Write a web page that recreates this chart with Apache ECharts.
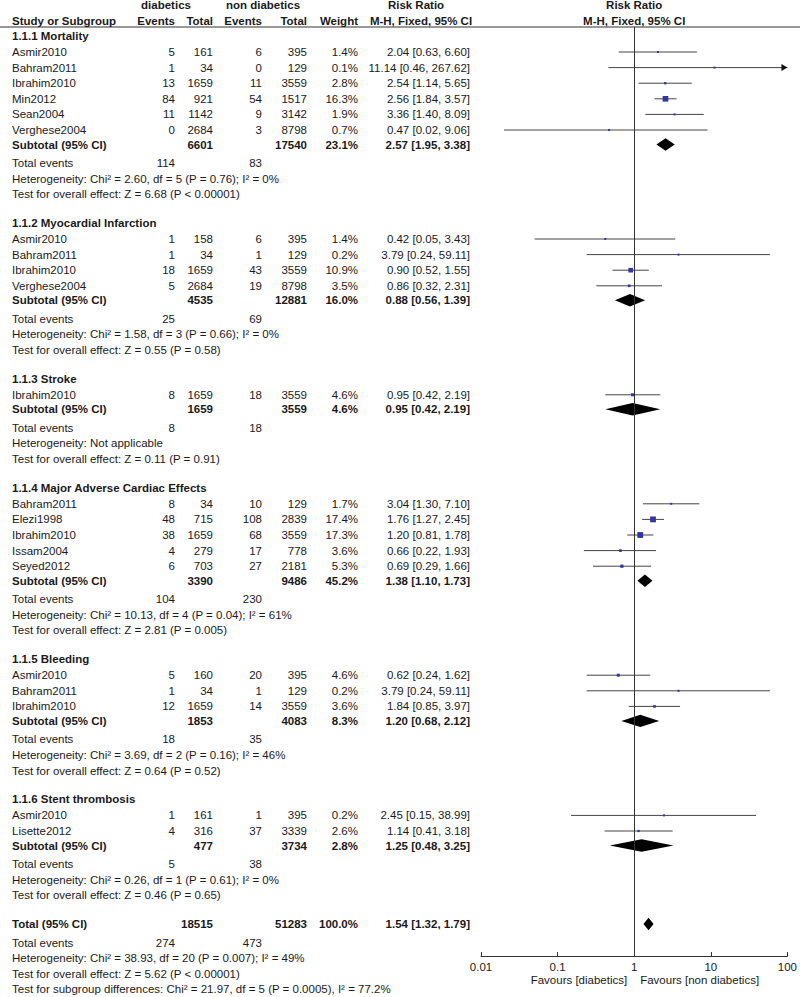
<!DOCTYPE html>
<html>
<head>
<meta charset="utf-8">
<script src="https://cdn.jsdelivr.net/npm/echarts@6/dist/echarts.min.js"></script>
<style>html,body{margin:0;padding:0;background:#fff}#c{width:800px;height:997px}</style>
</head>
<body>
<div id="c"></div>
<script>
// ---------------- DATA ----------------
const groupTitles = ['1.1.1 Mortality', '1.1.2 Myocardial Infarction', '1.1.3 Stroke',
  '1.1.4 Major Adverse Cardiac Effects', '1.1.5 Bleeding', '1.1.6 Stent thrombosis'];
const studyGroup = [0,0,0,0,0,0, 1,1,1,1, 2, 3,3,3,3,3, 4,4,4, 5,5];
const studyNames = ['Asmir2010','Bahram2011','Ibrahim2010','Min2012','Sean2004','Verghese2004',
  'Asmir2010','Bahram2011','Ibrahim2010','Verghese2004',
  'Ibrahim2010',
  'Bahram2011','Elezi1998','Ibrahim2010','Issam2004','Seyed2012',
  'Asmir2010','Bahram2011','Ibrahim2010',
  'Asmir2010','Lisette2012'];
const eventsDiab   = [5,1,13,84,11,0, 1,1,18,5, 8, 8,48,38,4,6, 5,1,12, 1,4];
const totalDiab    = [161,34,1659,921,1142,2684, 158,34,1659,2684, 1659, 34,715,1659,279,703, 160,34,1659, 161,316];
const eventsNon    = [6,0,11,54,9,3, 6,1,43,19, 18, 10,108,68,17,27, 20,1,14, 1,37];
const totalNon     = [395,129,3559,1517,3142,8798, 395,129,3559,8798, 3559, 129,2839,3559,778,2181, 395,129,3559, 395,3339];
const weights      = [1.4,0.1,2.8,16.3,1.9,0.7, 1.4,0.2,10.9,3.5, 4.6, 1.7,17.4,17.3,3.6,5.3, 4.6,0.2,3.6, 0.2,2.6];
const riskRatio    = [2.04,11.14,2.54,2.56,3.36,0.47, 0.42,3.79,0.90,0.86, 0.95, 3.04,1.76,1.20,0.66,0.69, 0.62,3.79,1.84, 2.45,1.14];
const ciLow        = [0.63,0.46,1.14,1.84,1.40,0.02, 0.05,0.24,0.52,0.32, 0.42, 1.30,1.27,0.81,0.22,0.29, 0.24,0.24,0.85, 0.15,0.41];
const ciHigh       = [6.60,267.62,5.65,3.57,8.09,9.06, 3.43,59.11,1.55,2.31, 2.19, 7.10,2.45,1.78,1.93,1.66, 1.62,59.11,3.97, 38.99,3.18];

const subTotalDiab = [6601,4535,1659,3390,1853,477];
const subTotalNon  = [17540,12881,3559,9486,4083,3734];
const subWeight    = [23.1,16.0,4.6,45.2,8.3,2.8];
const subRR        = [2.57,0.88,0.95,1.38,1.20,1.25];
const subLow       = [1.95,0.56,0.42,1.10,0.68,0.48];
const subHigh      = [3.38,1.39,2.19,1.73,2.12,3.25];
const subEventsDiab= [114,25,8,104,18,5];
const subEventsNon = [83,69,18,230,35,38];
const hetChi       = ['2.60','1.58',null,'10.13','3.69','0.26'];
const hetDf        = [5,3,null,4,2,1];
const hetP         = ['0.76','0.66',null,'0.04','0.16','0.61'];
const hetI2        = [0,0,null,61,46,0];
const zValue       = ['6.68','0.55','0.11','2.81','0.64','0.46'];
const zP           = ['P < 0.00001','P = 0.58','P = 0.91','P = 0.005','P = 0.52','P = 0.65'];

const overallTotals = [18515, 51283];
const overallWeight = 100.0;
const overallRR     = [1.54, 1.32, 1.79];
const overallEvents = [274, 473];
const overallHet    = ['38.93', 20, '0.007', 49];
const overallZ      = ['5.62', 'P < 0.00001'];
const subgroupDiff  = ['21.97', 5, '0.0005', '77.2'];

const xTicks = [0.01, 0.1, 1, 10, 100];
const favourLabels = ['Favours [diabetics]', 'Favours [non diabetics]'];

// ---------------- LAYOUT ----------------
const FONT = '"Liberation Sans", Arial, Helvetica, sans-serif';
const FS = 11.5;
const TXT = '#1a1a1a';
const COL = {name: 12, evD: 175, totD: 213, evN: 262, totN: 307, w: 358, rr: 470};
const ROW = 15.6, HEAD_TO_STUDY = 16, STUDY_TO_SUB = 14.5, SUB_TO_TE = 18.5, GROUP_GAP = 28.8, TOP = 36;
const AXIS_Y = 956, HEADER_LINE_Y = 27;

const texts = [];
function T(x, y, text, align, bold) { texts.push({x, y, text: String(text), align: align || 'left', bold: !!bold}); }
const fmtRR = (r, l, h) => r.toFixed(2) + ' [' + l.toFixed(2) + ', ' + h.toFixed(2) + ']';
const pct = w => w.toFixed(1) + '%';

// header
T(166, 5, 'diabetics', 'center', true);
T(263, 5, 'non diabetics', 'center', true);
T(416, 5, 'Risk Ratio', 'center', true);
T(COL.name, 21, 'Study or Subgroup', 'left', true);
T(COL.evD, 21, 'Events', 'right', true);
T(COL.totD, 21, 'Total', 'right', true);
T(COL.evN, 21, 'Events', 'right', true);
T(COL.totN, 21, 'Total', 'right', true);
T(COL.w, 21, 'Weight', 'right', true);
T(421, 21, 'M-H, Fixed, 95% CI', 'center', true);

const ciData = [];      // [rr, lo, hi, y, weight]
const diamondData = []; // [rr, lo, hi, y]
let y = TOP;
for (let g = 0; g < groupTitles.length; g++) {
  T(COL.name, y, groupTitles[g], 'left', true);
  y += HEAD_TO_STUDY;
  let first = true;
  for (let i = 0; i < studyNames.length; i++) {
    if (studyGroup[i] !== g) continue;
    if (!first) y += ROW;
    first = false;
    T(COL.name, y, studyNames[i]);
    T(COL.evD, y, eventsDiab[i], 'right');
    T(COL.totD, y, totalDiab[i], 'right');
    T(COL.evN, y, eventsNon[i], 'right');
    T(COL.totN, y, totalNon[i], 'right');
    T(COL.w, y, pct(weights[i]), 'right');
    T(COL.rr, y, fmtRR(riskRatio[i], ciLow[i], ciHigh[i]), 'right');
    ciData.push([riskRatio[i], ciLow[i], ciHigh[i], y, weights[i]]);
  }
  y += STUDY_TO_SUB;
  T(COL.name, y, 'Subtotal (95% CI)', 'left', true);
  T(COL.totD, y, subTotalDiab[g], 'right', true);
  T(COL.totN, y, subTotalNon[g], 'right', true);
  T(COL.w, y, pct(subWeight[g]), 'right', true);
  T(COL.rr, y, fmtRR(subRR[g], subLow[g], subHigh[g]), 'right', true);
  diamondData.push([subRR[g], subLow[g], subHigh[g], y]);
  y += SUB_TO_TE;
  T(COL.name, y, 'Total events');
  T(COL.evD, y, subEventsDiab[g], 'right');
  T(COL.evN, y, subEventsNon[g], 'right');
  y += ROW;
  T(COL.name, y, hetChi[g] === null ? 'Heterogeneity: Not applicable'
    : 'Heterogeneity: Chi² = ' + hetChi[g] + ', df = ' + hetDf[g] + ' (P = ' + hetP[g] + '); I² = ' + hetI2[g] + '%');
  y += ROW;
  T(COL.name, y, 'Test for overall effect: Z = ' + zValue[g] + ' (' + zP[g] + ')');
  y += GROUP_GAP;
}
// overall
T(COL.name, y, 'Total (95% CI)', 'left', true);
T(COL.totD, y, overallTotals[0], 'right', true);
T(COL.totN, y, overallTotals[1], 'right', true);
T(COL.w, y, pct(overallWeight), 'right', true);
T(COL.rr, y, fmtRR(overallRR[0], overallRR[1], overallRR[2]), 'right', true);
diamondData.push([overallRR[0], overallRR[1], overallRR[2], y]);
y += SUB_TO_TE;
T(COL.name, y, 'Total events');
T(COL.evD, y, overallEvents[0], 'right');
T(COL.evN, y, overallEvents[1], 'right');
y += ROW;
T(COL.name, y, 'Heterogeneity: Chi² = ' + overallHet[0] + ', df = ' + overallHet[1] + ' (P = ' + overallHet[2] + '); I² = ' + overallHet[3] + '%');
y += ROW;
T(COL.name, y, 'Test for overall effect: Z = ' + overallZ[0] + ' (' + overallZ[1] + ')');
y += ROW;
T(COL.name, y, 'Test for subgroup differences: Chi² = ' + subgroupDiff[0] + ', df = ' + subgroupDiff[1] + ' (P = ' + subgroupDiff[2] + '), I² = ' + subgroupDiff[3] + '%');

// plot-side texts anchored at x = 1 on the log axis
const plotTexts = [
  {v: 1, y: 5, dx: 0, text: 'Risk Ratio', align: 'center', bold: true},
  {v: 1, y: 21, dx: 0, text: 'M-H, Fixed, 95% CI', align: 'center', bold: true},
  {v: 1, y: 980, dx: -7, text: favourLabels[0], align: 'right', bold: false},
  {v: 1, y: 980, dx: 6, text: favourLabels[1], align: 'left', bold: false}
];

// ---------------- CHART ----------------
const chart = echarts.init(document.getElementById('c'), null, {renderer: 'svg', width: 800, height: 997});
const XMIN = xTicks[0], XMAX = xTicks[xTicks.length - 1];

function textEl(x, yy, t) {
  return {type: 'text', x: x, y: yy, silent: true,
    style: {text: t.text, align: t.align, verticalAlign: 'middle', fill: TXT,
      fontSize: FS, fontWeight: t.bold ? 'bold' : 'normal', fontFamily: FONT}};
}

chart.setOption({
  animation: false,
  backgroundColor: '#fff',
  grid: [
    {left: 0, top: 0, width: 800, height: 997},
    {left: 481, top: HEADER_LINE_Y, width: 308, height: AXIS_Y - HEADER_LINE_Y}
  ],
  xAxis: [
    {type: 'value', gridIndex: 0, min: 0, max: 800, show: false},
    {type: 'log', gridIndex: 1, logBase: 10, min: XMIN, max: XMAX, position: 'bottom',
      axisLine: {show: true, lineStyle: {color: '#333', width: 1}},
      axisTick: {show: true, inside: true, length: 4, lineStyle: {color: '#333', width: 1}},
      splitLine: {show: false},
      axisLabel: {show: true, margin: 5, color: TXT, fontSize: FS, fontFamily: FONT,
        showMinLabel: true, showMaxLabel: true,
        formatter: v => String(parseFloat(Number(v).toPrecision(3)))}}
  ],
  yAxis: [
    {type: 'value', gridIndex: 0, min: 0, max: 997, inverse: true, show: false},
    {type: 'value', gridIndex: 1, min: HEADER_LINE_Y, max: AXIS_Y, inverse: true, show: false}
  ],
  graphic: [
    {type: 'line', shape: {x1: 0, y1: HEADER_LINE_Y, x2: 800, y2: HEADER_LINE_Y},
      style: {stroke: '#333', lineWidth: 1.2}, silent: true}
  ],
  series: [
    // table texts
    {type: 'custom', xAxisIndex: 0, yAxisIndex: 0, silent: true,
      data: texts.map((t, i) => [t.x, t.y, i]),
      renderItem: (params, api) => {
        const t = texts[api.value(2)];
        const p = api.coord([api.value(0), api.value(1)]);
        return textEl(p[0], p[1], t);
      }},
    // study CIs and squares
    {type: 'custom', xAxisIndex: 1, yAxisIndex: 1, silent: true, clip: false,
      data: ciData,
      renderItem: (params, api) => {
        const rr = api.value(0), lo = api.value(1), hi = api.value(2), yy = api.value(3), w = api.value(4);
        const pl = api.coord([Math.max(lo, XMIN), yy]);
        const ph = api.coord([Math.min(hi, XMAX), yy]);
        const pc = api.coord([rr, yy]);
        const children = [
          {type: 'line', shape: {x1: pl[0], y1: pl[1], x2: ph[0], y2: ph[1]},
            style: {stroke: '#444', lineWidth: 1}}
        ];
        if (hi > XMAX) {
          children.push({type: 'polygon', shape: {points: [[ph[0], ph[1]], [ph[0] - 6, ph[1] - 3.5], [ph[0] - 6, ph[1] + 3.5]]},
            style: {fill: '#111'}});
        }
        if (lo < XMIN) {
          children.push({type: 'polygon', shape: {points: [[pl[0], pl[1]], [pl[0] + 6, pl[1] - 3.5], [pl[0] + 6, pl[1] + 3.5]]},
            style: {fill: '#111'}});
        }
        const s = Math.max(2, 1.4 * Math.sqrt(w));
        children.push({type: 'rect', shape: {x: pc[0] - s / 2, y: pc[1] - s / 2, width: s, height: s},
          style: {fill: '#3535a0'}});
        return {type: 'group', children: children};
      },
      markLine: {silent: true, symbol: 'none', label: {show: false},
        lineStyle: {color: '#333', width: 1, type: 'solid'},
        data: [{xAxis: 1}]}
    },
    // subtotal & total diamonds
    {type: 'custom', xAxisIndex: 1, yAxisIndex: 1, silent: true, clip: false,
      data: diamondData,
      renderItem: (params, api) => {
        const yy = api.value(3);
        const pc = api.coord([api.value(0), yy]);
        const pl = api.coord([api.value(1), yy]);
        const ph = api.coord([api.value(2), yy]);
        const hh = 6.2;
        return {type: 'polygon', shape: {points: [[pl[0], yy === 0 ? 0 : pl[1]], [pc[0], pc[1] - hh], [ph[0], ph[1]], [pc[0], pc[1] + hh]]},
          style: {fill: '#000'}};
      }},
    // plot texts anchored on the axis
    {type: 'custom', xAxisIndex: 1, yAxisIndex: 1, silent: true, clip: false,
      data: plotTexts.map((t, i) => [t.v, t.y, i]),
      renderItem: (params, api) => {
        const t = plotTexts[api.value(2)];
        const p = api.coord([api.value(0), api.value(1)]);
        return textEl(p[0] + t.dx, p[1], t);
      }}
  ]
});
</script>
</body>
</html>
